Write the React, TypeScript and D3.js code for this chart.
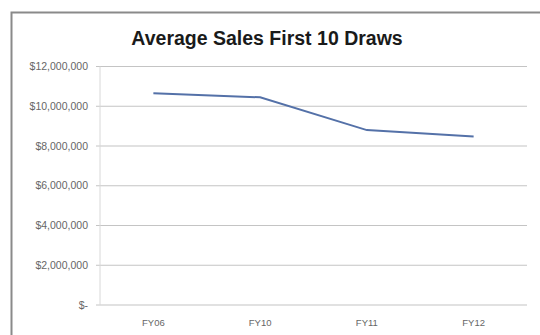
import React from "react";
import * as d3 from "d3";

const categories = ["FY06", "FY10", "FY11", "FY12"];
const sales = [10650000, 10450000, 8800000, 8480000];
const yTicks = [0, 2000000, 4000000, 6000000, 8000000, 10000000, 12000000];
const title = "Average Sales First 10 Draws";

const W = 540;
const H = 335;
const plot = { left: 100, right: 527, top: 66.5, bottom: 305 };

function fmt(v: number) {
  if (v === 0) return "$-";
  return "$" + d3.format(",")(v);
}

export default function App() {
  const x = d3
    .scaleBand<string>()
    .domain(categories)
    .range([plot.left, plot.right]);
  const y = d3.scaleLinear().domain([0, 12000000]).range([plot.bottom, plot.top]);
  const line = d3
    .line<number>()
    .x((_, i) => (x(categories[i]) as number) + x.bandwidth() / 2)
    .y((d) => y(d));

  return (
    <svg
      width={W}
      height={H}
      style={{ position: "absolute", left: 0, top: 0, background: "#fff" }}
      fontFamily="'Liberation Sans', Arial, sans-serif"
    >
      <rect x={0} y={0} width={W} height={H} fill="#fff" />
      <path d={`M11.5,${H} L11.5,12.5 L${W},12.5`} fill="none" stroke="#8a8a8a" strokeWidth={2} />
      <text
        x={267}
        y={45}
        textAnchor="middle"
        fontSize={19.5}
        fontWeight="bold"
        fill="#1a1a1a"
      >
        {title}
      </text>
      {yTicks.map((t) => (
        <g key={t}>
          <line
            x1={plot.left}
            x2={plot.right}
            y1={y(t)}
            y2={y(t)}
            stroke="#c4c4c4"
            strokeWidth={1.2}
          />
          <line x1={plot.left - 4} x2={plot.left} y1={y(t)} y2={y(t)} stroke="#c4c4c4" />
          <text
            x={88}
            y={y(t)}
            dy="0.35em"
            textAnchor="end"
            fontSize={10.5}
            fill="#666"
          >
            {fmt(t)}
          </text>
        </g>
      ))}
      <line
        x1={plot.left}
        x2={plot.left}
        y1={plot.top}
        y2={plot.bottom}
        stroke="#d8d8d8"
        strokeWidth={1}
      />
      {categories.map((c) => (
        <text
          key={c}
          x={(x(c) as number) + x.bandwidth() / 2}
          y={326}
          textAnchor="middle"
          fontSize={9.5}
          fill="#666"
        >
          {c}
        </text>
      ))}
      <path d={line(sales) || ""} fill="none" stroke="#5471a8" strokeWidth={2} />
    </svg>
  );
}
